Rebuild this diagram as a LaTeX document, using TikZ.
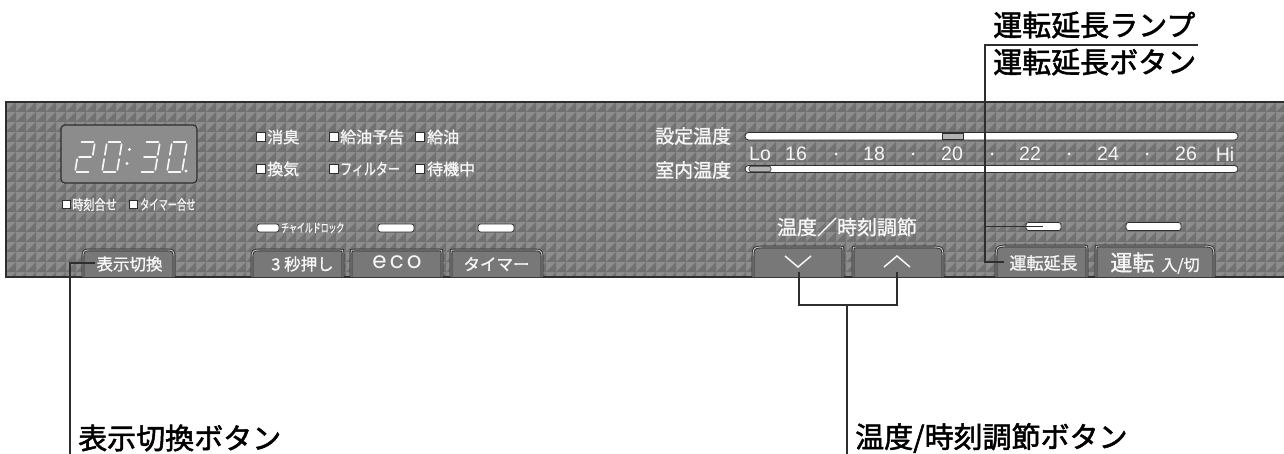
\documentclass[tikz,border=0pt]{standalone}
\usepackage{fontspec}
\setmainfont{Liberation Sans}
\newfontfamily\jp{Noto Sans CJK JP}[FakeBold=1.2]
\newfontfamily\jpl{Noto Sans CJK JP}[FakeBold=1.8]
\newfontfamily\ecof{Poppins}[LetterSpace=14]
\newcommand\fs[1]{\fontsize{#1}{#1}\selectfont}
\definecolor{panelbg}{HTML}{8C8C8C}
\definecolor{paneldk}{HTML}{717171}
\definecolor{edge}{HTML}{2E2E2E}
\definecolor{btnbg}{HTML}{787878}
\definecolor{btnlt}{HTML}{C8C8C8}
\definecolor{clockbg}{HTML}{8C8C8C}
\definecolor{txtw}{HTML}{F6F6F6}
\definecolor{barseg}{HTML}{B2B2B2}
% button: #1 x1, #2 x2, #3 ytop, #4 left radius, #5 right radius
\newcommand\pbtn[5]{%
  \path[btnshape] ({#1},277) -- ({#1},{#3+#4}) .. controls ({#1},{#3}) .. ({#1+#4},{#3})
    -- ({#2-#5},{#3}) .. controls ({#2},{#3}) .. ({#2},{#3+#5}) -- ({#2},277);}
\begin{document}
\begin{tikzpicture}[x=1pt,y=-1pt,
  btnshape/.style={fill=btnbg, draw=edge, line width=0.9pt, double=btnlt, double distance=0.9pt},
  btxt/.style={text=txtw, inner sep=0pt, font=\jp\fs{16.5}},
  ptxt/.style={text=txtw, inner sep=0pt, anchor=west},
  ind/.style={draw=edge, fill=white, minimum size=8.5pt, inner sep=0pt, line width=0.6pt},
  lamp/.style={draw=edge, fill=white, rounded corners=2.5pt, inner sep=0pt, minimum height=8pt, line width=0.8pt},
  seg/.style={draw=txtw, line width=1.7pt, line cap=round},
  conn/.style={draw=edge, line width=1.1pt},
  lbl/.style={text=black, inner sep=0pt, anchor=west, font=\jpl\fs{29}},
  numt/.style={text=txtw, inner sep=0pt, font=\fs{19.5}}]
\useasboundingbox (0,0) rectangle (1284,454);
% ---------- panel texture ----------
\begin{scope}
  \clip (6,102) rectangle (1290,277);
  \fill[panelbg] (0,95) rectangle (1290,285);
  \foreach \j in {0,...,17}{
    \fill[paneldk] \foreach \i in {0,...,128}{
      ({6+10*\i},{112+10*\j}) -- ({16+10*\i},{102+10*\j}) -- ({16+10*\i},{112+10*\j}) -- cycle };
  }
\end{scope}
\draw[edge, line width=1.4pt] (1290,102) -- (6,102) -- (6,277) -- (1290,277);
% ---------- clock ----------
\node[draw=edge, fill=clockbg, rounded corners=4pt, line width=1.1pt,
      minimum width=136pt, minimum height=58pt, inner sep=0pt] (clock) at (129,154) {};
\begin{scope}[shift={(75,172)}, x={(15pt,0pt)}, y={(5pt,30pt)}]
  \draw[seg] (0.1,1)--(0.9,1) (1,0.93)--(1,0.57) (0.1,0.5)--(0.9,0.5) (0,0.43)--(0,0.07) (0.1,0)--(0.9,0);
\end{scope}
\begin{scope}[shift={(102,172)}, x={(15pt,0pt)}, y={(5pt,30pt)}]
  \draw[seg] (0.1,1)--(0.9,1) (1,0.93)--(1,0.57) (1,0.43)--(1,0.07) (0.1,0)--(0.9,0) (0,0.07)--(0,0.43) (0,0.57)--(0,0.93);
\end{scope}
\begin{scope}[shift={(140,172)}, x={(15pt,0pt)}, y={(5pt,30pt)}]
  \draw[seg] (0.1,1)--(0.9,1) (1,0.93)--(1,0.57) (0.1,0.5)--(0.9,0.5) (1,0.43)--(1,0.07) (0.1,0)--(0.9,0);
\end{scope}
\begin{scope}[shift={(167,172)}, x={(15pt,0pt)}, y={(5pt,30pt)}]
  \draw[seg] (0.1,1)--(0.9,1) (1,0.93)--(1,0.57) (1,0.43)--(1,0.07) (0.1,0)--(0.9,0) (0,0.07)--(0,0.43) (0,0.57)--(0,0.93);
\end{scope}
\fill[txtw] (129.5,149.5) circle (1.6pt) (127,163.5) circle (1.6pt) (186,171) circle (1.6pt);
% ---------- labels under clock ----------
\node[ind] (bx1) at (66.5,204.5) {};
\node[ptxt, font=\jp\fs{14}, xscale=0.8] (t1) at (72,204.5) {時刻合せ};
\node[ind] (bx2) at (133.5,204.5) {};
\node[ptxt, font=\jp\fs{14}, xscale=0.66] (t2) at (140,204.5) {タイマー合せ};
% ---------- indicators ----------
\node[ind] (i1) at (261,137) {};
\node[ptxt, font=\jp\fs{16}] (it1) at (267,137) {消臭};
\node[ind] (i2) at (334,137) {};
\node[ptxt, font=\jp\fs{16}] (it2) at (340,137) {給油予告};
\node[ind] (i3) at (420,137) {};
\node[ptxt, font=\jp\fs{16}] (it3) at (427,137) {給油};
\node[ind] (i4) at (261,169) {};
\node[ptxt, font=\jp\fs{16}] (it4) at (267,169) {換気};
\node[ind] (i5) at (334,169) {};
\node[ptxt, font=\jp\fs{16}, xscale=0.75] (it5) at (340,169) {フィルター};
\node[ind] (i6) at (420,169) {};
\node[ptxt, font=\jp\fs{16}] (it6) at (427,169) {待機中};
% ---------- lamps ----------
\node[lamp, minimum width=22pt] (l1) at (268,228) {};
\node[ptxt, font=\jp\fs{12}, xscale=0.66] (lt1) at (281,228) {チャイルドロック};
\node[lamp, minimum width=36pt] (l2) at (396,228) {};
\node[lamp, minimum width=36pt] (l3) at (496,228) {};
\node[lamp, minimum width=35pt] (l4) at (1043.5,226.5) {};
\node[lamp, minimum width=55pt] (l5) at (1153.5,226.5) {};
% ---------- temperature ----------
\node[ptxt, font=\jp\fs{19}] (st) at (655,136) {設定温度};
\node[ptxt, font=\jp\fs{19}] (rt) at (655,170) {室内温度};
\draw[edge, fill=white, line width=0.8pt, rounded corners=3.5pt] (745,132.5) rectangle (1238,140) node[coordinate] (bar1) {};
\draw[edge, fill=barseg, line width=0.6pt] (942,133) rectangle (963,139.5);
\draw[edge, fill=white, line width=0.8pt, rounded corners=3.5pt] (745,165.5) rectangle (1238,172.5) node[coordinate] (bar2) {};
\draw[edge, fill=barseg, line width=0.6pt, rounded corners=2pt] (749,166.3) rectangle (771,171.7);
\node[numt] (n0) at (760,154) {Lo};
\node[numt] (n1) at (796,154) {16};
\node[numt] (n2) at (874,154) {18};
\node[numt] (n3) at (952,154) {20};
\node[numt] (n4) at (1030,154) {22};
\node[numt] (n5) at (1108,154) {24};
\node[numt] (n6) at (1186,154) {26};
\node[numt] (n7) at (1225,154) {Hi};
\fill[txtw] (836,154) circle (1.5pt) (913,154) circle (1.5pt) (992,154) circle (1.5pt)
  (1069,154) circle (1.5pt) (1147,154) circle (1.5pt);
\node[text=txtw, inner sep=0pt, font=\jp\fs{20}] (adj) at (847,227) {温度／時刻調節};
% ---------- buttons ----------
\pbtn{83}{174}{250}{9}{9}
\node[btxt] (b1) at (129.5,264) {表示切換};
\pbtn{252}{343}{250}{10}{3}
\node[btxt] (b2) at (302.5,264) {3 秒押し};
\pbtn{351}{442}{250}{3}{3}
\node[text=txtw, inner sep=0pt, font=\ecof\fs{23}] (b3) at (397,262) {eco};
\pbtn{451}{542}{250}{3}{10}
\node[btxt] (b4) at (496.5,264) {タイマー};
\pbtn{753}{843}{247}{13}{3}
\node[coordinate] (b5) at (798,267) {};
\draw[txtw, line width=1.5pt] (785,256) -- (b5) -- (811,256);
\pbtn{853}{943}{247}{3}{13}
\node[coordinate] (b6) at (897,256) {};
\draw[txtw, line width=1.5pt] (884,267) -- (b6) -- (910,267);
\pbtn{996}{1087}{246}{14}{3}
\node[btxt, font=\jp\fs{17}] (b7) at (1043.5,263) {運転延長};
\pbtn{1096}{1214}{246}{3}{14}
\node[text=txtw, inner sep=0pt] (b8) at (1155,263) {{\jp\fs{22}運転}\hspace{7pt}{\jp\fs{16}入/切}};
% ---------- callout labels ----------
\node[lbl] (lampl) at (993,25) {運転延長ランプ};
\node[lbl] (btnl) at (993,62) {運転延長ボタン};
\node[lbl] (displ) at (78,438) {表示切換ボタン};
\node[lbl] (adjl) at (855,438) {温度/時刻調節ボタン};
% ---------- connectors ----------
\coordinate (ta) at (985,45);
\coordinate (tb) at (1198,45);
\coordinate (tc) at (985,262);
\coordinate (td) at (1004,262);
\coordinate (te) at (985,226.5);
\coordinate (tf) at (1043,226.5);
\draw[conn] (tb) -- (ta) -- (tc) -- (td);
\draw[conn] (te) -- (tf);
\coordinate (da) at (70,454);
\coordinate (db) at (70,263);
\coordinate (dc) at (95,263);
\draw[conn] (da) -- (db) -- (dc);
\coordinate (aa) at (799,272);
\coordinate (ab) at (799,305);
\coordinate (ac) at (897,305);
\coordinate (ad) at (897,272);
\coordinate (ae) at (847,305);
\coordinate (af) at (847,454);
\draw[conn] (aa) -- (ab) -- (ac) -- (ad);
\draw[conn] (ae) -- (af);
\end{tikzpicture}
\end{document}
